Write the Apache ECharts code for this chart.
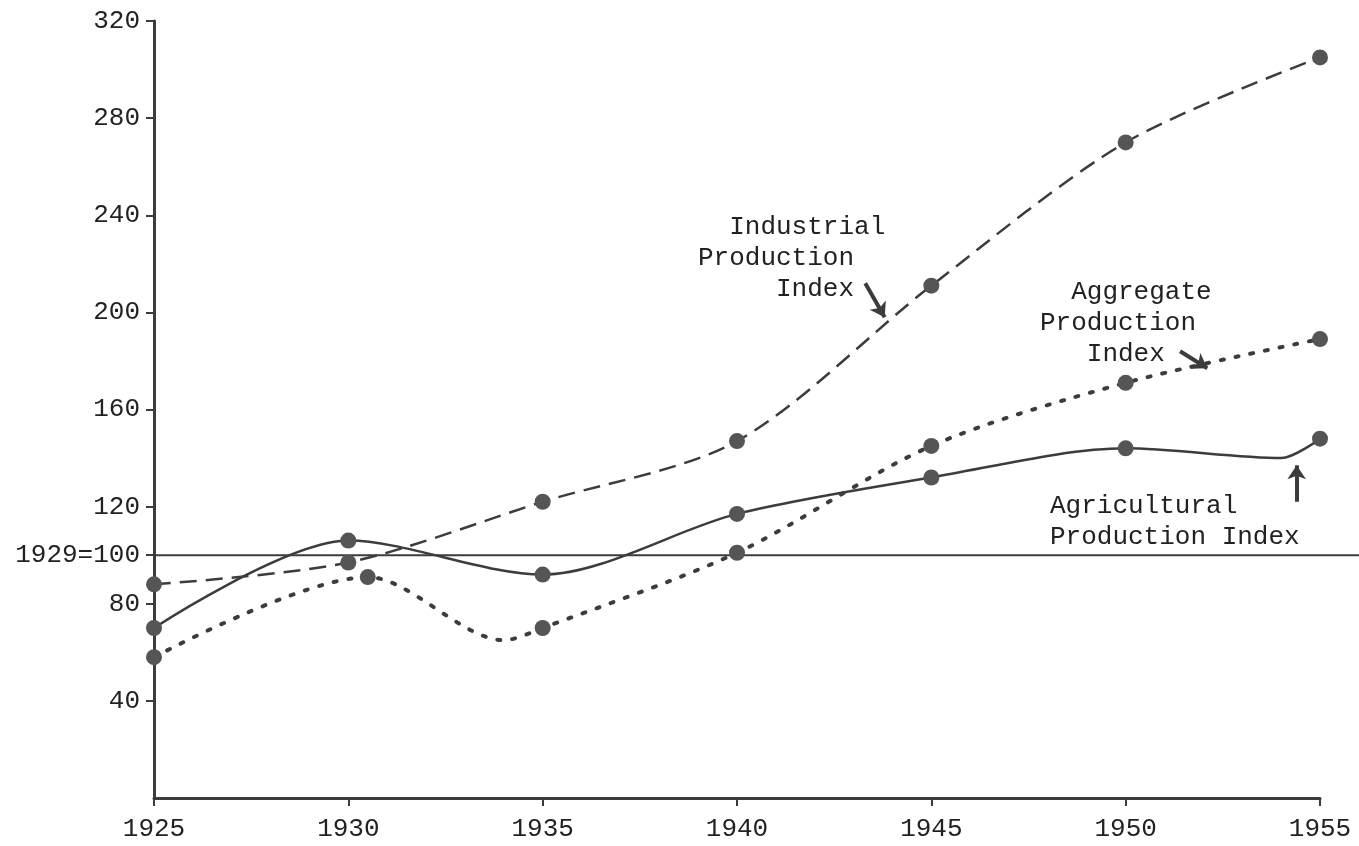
<!DOCTYPE html>
<html>
<head>
<meta charset="utf-8">
<script src="https://cdn.jsdelivr.net/npm/echarts@6/dist/echarts.min.js"></script>
<style>
  html, body { margin: 0; padding: 0; background: #fff; }
  #chart { width: 1359px; height: 846px; }
</style>
</head>
<body>
<div id="chart"></div>
<script>
// data (1929 = 100)
const years = [1925, 1930, 1935, 1940, 1945, 1950, 1955];
const industrial = [88, 97, 122, 147, 211, 270, 305];

const agriYears = [1925, 1930, 1935, 1940, 1945, 1950, 1954, 1955];
const agricultural = [70, 106, 92, 117, 132, 144, 140, 148];

const aggYears = [1925, 1930.5, 1934, 1935, 1940, 1945, 1950, 1955];
const aggregate = [58, 91, 65, 70, 101, 145, 171, 189];

const yTicks = [40, 80, 100, 120, 160, 200, 240, 280, 320];
const baseValue = 100; // 1929 = 100

const ink = '#3c3c3c';
const font = 'Liberation Mono';
const textFont = '26px "Liberation Mono"';

// only the observations carry a dot, not the in-between bends
const dotSize = (v) => (v[0] === 1934 || v[0] === 1954 ? 0 : 16);

const pairs = (xs, ys) => xs.map((x, i) => [x, ys[i]]);

// arrow from the label to its line
const arrow = (from, to) => ({
    silent: true,
    symbol: ['none', 'arrow'],
    symbolSize: 14,
    label: { show: false },
    lineStyle: { color: ink, width: 4, type: 'solid' },
    data: [[{ coord: from }, { coord: to }]]
});

var myChart = echarts.init(document.getElementById('chart'));

var option = {
    backgroundColor: '#fff',
    animation: false,
    grid: { left: 154, right: 39, top: 21, bottom: 48 },
    xAxis: {
        type: 'value',
        min: 1925,
        max: 1955,
        interval: 5,
        splitLine: { show: false },
        axisLine: { lineStyle: { color: ink, width: 3 } },
        axisTick: { length: 8, lineStyle: { color: ink, width: 2 } },
        axisLabel: {
            margin: 18,
            color: '#222',
            fontFamily: font,
            fontSize: 26,
            formatter: (v) => String(v)
        }
    },
    yAxis: {
        type: 'value',
        min: 0,
        max: 320,
        interval: 40,
        splitLine: { show: false },
        axisLine: { show: true, lineStyle: { color: ink, width: 3 } },
        axisTick: { show: true, length: 8, customValues: yTicks, lineStyle: { color: ink, width: 2 } },
        axisLabel: {
            margin: 14,
            color: '#222',
            fontFamily: font,
            fontSize: 26,
            customValues: yTicks,
            formatter: (v) => (v === baseValue ? '1929=100' : String(v))
        }
    },
    series: [
        {
            name: 'Industrial Production Index',
            type: 'line',
            data: pairs(years, industrial),
            smooth: 0.3,
            symbol: 'circle',
            symbolSize: dotSize,
            itemStyle: { color: '#555' },
            lineStyle: { color: ink, width: 2.5, type: [17, 9] },
            markLine: arrow([1943.3, 212], [1943.8, 198])
        },
        {
            name: 'Agricultural Production Index',
            type: 'line',
            data: pairs(agriYears, agricultural),
            smooth: 0.3,
            symbol: 'circle',
            symbolSize: dotSize,
            itemStyle: { color: '#555' },
            lineStyle: { color: ink, width: 2.5 },
            markLine: arrow([1954.4, 122], [1954.4, 137])
        },
        {
            name: 'Aggregate Production Index',
            type: 'line',
            data: pairs(aggYears, aggregate),
            smooth: 0.3,
            symbol: 'circle',
            symbolSize: dotSize,
            itemStyle: { color: '#555' },
            lineStyle: { color: ink, width: 4, type: [3, 12], cap: 'round' },
            markLine: arrow([1951.4, 184], [1952.1, 177])
        }
    ],
    graphic: [
        {
            id: 'lblInd', type: 'text', left: 698, top: 212,
            style: { text: '  Industrial\nProduction\n     Index', font: textFont, lineHeight: 31, fill: '#222' }
        },
        {
            id: 'lblAgg', type: 'text', left: 1040, top: 277,
            style: { text: '  Aggregate\nProduction\n   Index', font: textFont, lineHeight: 31, fill: '#222' }
        },
        {
            id: 'lblAgr', type: 'text', left: 1050, top: 491,
            style: { text: 'Agricultural\nProduction Index', font: textFont, lineHeight: 31, fill: '#222' }
        }
    ]
};

myChart.setOption(option);

// the 1929=100 base line runs from the axis out to the page edge
const basePt = myChart.convertToPixel({ gridIndex: 0 }, [1925, baseValue]);
myChart.setOption({
    graphic: [{
        id: 'baseLine',
        type: 'line',
        silent: true,
        z: 1,
        shape: { x1: basePt[0], y1: basePt[1], x2: myChart.getWidth(), y2: basePt[1] },
        style: { stroke: ink, lineWidth: 2 }
    }]
});
</script>
</body>
</html>
